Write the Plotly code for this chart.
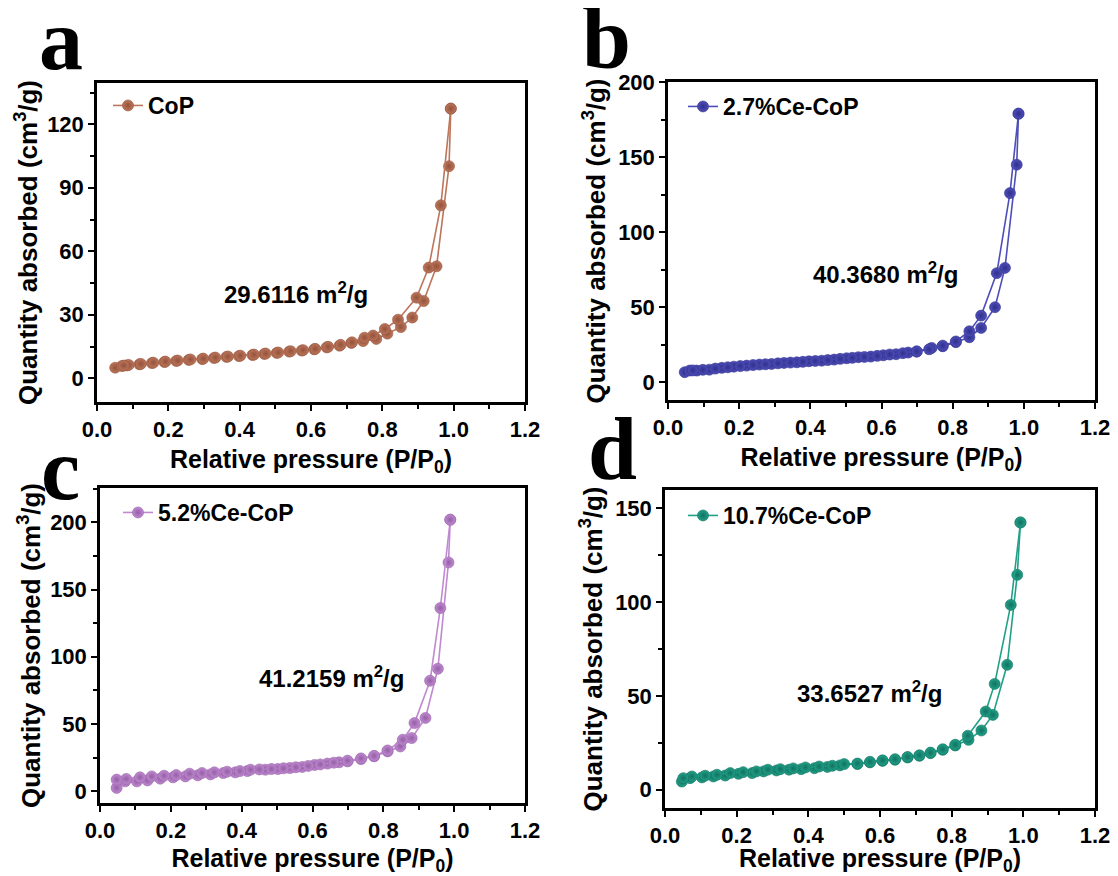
import plotly.graph_objects as go

# ---------------- data ----------------
# Panel a : CoP
a_ads_x = [0.051, 0.070, 0.084, 0.119, 0.154, 0.189, 0.222, 0.257, 0.295, 0.328, 0.363, 0.398, 0.436, 0.469,
           0.504, 0.539, 0.574, 0.609, 0.644, 0.680, 0.713, 0.746, 0.783, 0.814, 0.852, 0.884, 0.916, 0.952,
           0.987, 0.992]
a_ads_y = [5.0, 5.8, 6.1, 6.6, 7.2, 7.7, 8.2, 8.7, 9.1, 9.6, 10.1, 10.5, 11.0, 11.5,
           12.0, 12.6, 13.1, 13.7, 14.6, 15.4, 16.7, 17.6, 18.6, 21.1, 24.2, 28.7, 36.5, 52.9,
           100.2, 127.4]
a_des_x = [0.992, 0.964, 0.930, 0.896, 0.844, 0.807, 0.774, 0.750, 0.715, 0.683, 0.648, 0.612, 0.578, 0.543,
           0.508, 0.473, 0.440, 0.402, 0.367, 0.332, 0.298, 0.262, 0.226, 0.192, 0.158, 0.123, 0.089, 0.075]
a_des_y = [127.4, 81.7, 52.3, 38.1, 27.7, 23.3, 20.2, 19.2, 17.0, 15.8, 14.9, 13.9, 13.3, 12.8,
           12.2, 11.7, 11.2, 10.7, 10.3, 9.8, 9.3, 8.9, 8.4, 7.9, 7.4, 6.8, 6.3, 6.0]

# Panel b : 2.7%Ce-CoP
b_ads_x = [0.047, 0.061, 0.081, 0.116, 0.151, 0.185, 0.221, 0.257, 0.291, 0.326, 0.362, 0.396, 0.432, 0.467,
           0.502, 0.535, 0.570, 0.605, 0.641, 0.675, 0.699, 0.741, 0.772, 0.809, 0.847, 0.880, 0.919, 0.947,
           0.980, 0.985]
b_ads_y = [6.7, 7.8, 7.8, 8.4, 9.6, 10.4, 11.1, 11.8, 12.2, 12.9, 13.3, 14.0, 14.4, 15.1,
           16.0, 16.7, 17.1, 18.0, 18.7, 19.8, 20.4, 22.9, 24.0, 26.7, 30.0, 36.2, 50.0, 76.2,
           144.9, 178.9]
b_des_x = [0.985, 0.961, 0.924, 0.880, 0.847, 0.809, 0.772, 0.734, 0.699, 0.660, 0.623, 0.588, 0.552, 0.518,
           0.484, 0.449, 0.414, 0.379, 0.344, 0.309, 0.274, 0.239, 0.203, 0.168, 0.133, 0.098, 0.070]
b_des_y = [178.9, 126.0, 72.7, 44.4, 34.0, 27.2, 24.4, 22.0, 20.6, 19.4, 18.5, 17.6, 16.9, 16.3,
           15.6, 14.8, 14.2, 13.6, 13.1, 12.6, 12.0, 11.5, 10.8, 10.0, 9.1, 8.3, 7.9]

# Panel c : 5.2%Ce-CoP
c_ads_x = [0.047, 0.071, 0.104, 0.134, 0.170, 0.206, 0.241, 0.276, 0.312, 0.348, 0.382, 0.416, 0.467, 0.502,
           0.536, 0.571, 0.606, 0.642, 0.675, 0.699, 0.737, 0.774, 0.812, 0.848, 0.880, 0.919, 0.954, 0.984,
           0.989]
c_ads_y = [2.4, 7.3, 7.3, 8.0, 9.3, 10.3, 11.0, 11.8, 12.5, 13.5, 14.0, 15.0, 16.0, 16.5,
           17.2, 18.0, 19.5, 20.5, 21.5, 22.2, 23.9, 25.9, 29.6, 33.3, 39.5, 54.5, 91.1, 170.2,
           202.0]
c_des_x = [0.989, 0.961, 0.932, 0.888, 0.855, 0.812, 0.774, 0.737, 0.699, 0.660, 0.622, 0.588, 0.553, 0.518,
           0.484, 0.450, 0.425, 0.395, 0.359, 0.323, 0.288, 0.253, 0.215, 0.181, 0.146, 0.113, 0.074, 0.047]
c_des_y = [202.0, 136.3, 82.2, 50.7, 38.3, 30.3, 26.3, 24.4, 22.7, 21.2, 19.9, 18.8, 17.8, 17.0,
           16.5, 16.2, 16.0, 15.0, 14.5, 14.0, 13.5, 13.0, 12.0, 11.5, 11.0, 10.3, 9.1, 8.6]

# Panel d : 10.7%Ce-CoP
d_ads_x = [0.047, 0.070, 0.103, 0.135, 0.168, 0.205, 0.243, 0.275, 0.311, 0.346, 0.380, 0.417, 0.453, 0.488,
           0.537, 0.572, 0.607, 0.642, 0.677, 0.710, 0.741, 0.775, 0.810, 0.847, 0.883, 0.915, 0.955, 0.983,
           0.992]
d_ads_y = [4.4, 6.2, 6.6, 7.1, 7.6, 8.5, 8.9, 9.8, 10.3, 10.7, 11.0, 11.5, 12.2, 13.0,
           13.7, 14.6, 15.4, 16.0, 17.2, 18.1, 19.5, 21.3, 23.6, 26.6, 31.6, 39.9, 66.6, 114.5,
           142.4]
d_des_x = [0.992, 0.965, 0.920, 0.895, 0.845, 0.810, 0.775, 0.741, 0.710, 0.677, 0.642, 0.607, 0.572, 0.537,
           0.500, 0.467, 0.430, 0.392, 0.358, 0.322, 0.287, 0.255, 0.218, 0.182, 0.145, 0.112, 0.075, 0.051]
d_des_y = [142.4, 98.5, 56.4, 41.7, 28.8, 24.0, 21.6, 19.8, 18.4, 17.5, 16.3, 15.7, 14.9, 14.0,
           13.7, 12.8, 12.4, 11.9, 11.4, 11.0, 10.7, 9.8, 9.4, 8.9, 8.0, 7.5, 7.1, 6.2]

sample_names = ["CoP", "2.7%Ce-CoP", "5.2%Ce-CoP", "10.7%Ce-CoP"]
bet_labels = ["29.6116 m<sup>2</sup>/g", "40.3680 m<sup>2</sup>/g", "41.2159 m<sup>2</sup>/g", "33.6527 m<sup>2</sup>/g"]
panel_letters = ["a", "b", "c", "d"]

x_ticks = [0.0, 0.2, 0.4, 0.6, 0.8, 1.0, 1.2]
y_ranges = [[-11.2, 139.5], [-11.8, 200], [-8.8, 225.6], [-9.7, 159.7]]
y_dticks = [30, 50, 50, 50]

# ---------------- styling ----------------
OFF = 8                      # the page body adds an 8 px margin
W, H = 1118 - OFF, 876 - OFF
colors = ["#BC765B", "#4E4EBA", "#C189D1", "#21A088"]
edge_colors = ["#93523B", "#30308C", "#935FA5", "#117260"]

# plot boxes in screen pixels: (left, right, top, bottom)
boxes = [(97, 525, 83, 402), (668, 1095, 82, 400), (100, 525, 488, 803), (665, 1095, 490, 808)]

datasets = [(a_ads_x, a_ads_y, a_des_x, a_des_y),
            (b_ads_x, b_ads_y, b_des_x, b_des_y),
            (c_ads_x, c_ads_y, c_des_x, c_des_y),
            (d_ads_x, d_ads_y, d_des_x, d_des_y)]

legend_pos = [(108, 84), (683, 85), (118, 491), (683, 494)]
bet_pos = [(296, 293), (885, 273), (331, 677), (869, 692)]
letter_pos = [(61, 40), (606, 38), (60, 469), (612, 450)]
ytitle_standoff = [3, 6, 3, 6]


def fx(px):
    return (px - OFF) / W


def fy(py):
    return 1 - (py - OFF) / H


fig = go.Figure()
font_bold = dict(family="Arial", size=22, color="black", weight="bold")

for i in range(4):
    ax_sfx = "" if i == 0 else str(i + 1)
    xa, ya = "x" + ax_sfx, "y" + ax_sfx
    leg = "legend" if i == 0 else "legend" + str(i + 1)
    ax, ay, dx, dy = datasets[i]
    marker = dict(size=11, color=colors[i],
                  gradient=dict(type="radial", color=edge_colors[i]),
                  line=dict(width=0.6, color=edge_colors[i]))
    fig.add_trace(go.Scatter(x=ax, y=ay, mode="lines+markers", name=sample_names[i],
                             line=dict(color=colors[i], width=1.6), marker=marker,
                             xaxis=xa, yaxis=ya, legend=leg, showlegend=True))
    fig.add_trace(go.Scatter(x=dx, y=dy, mode="lines+markers", name=sample_names[i],
                             line=dict(color=colors[i], width=1.6), marker=marker,
                             xaxis=xa, yaxis=ya, legend=leg, showlegend=False))

layout = dict(width=W, height=H, margin=dict(l=0, r=0, t=0, b=0, autoexpand=False),
              paper_bgcolor="white", plot_bgcolor="white", annotations=[])

for i in range(4):
    l, r, t, b = boxes[i]
    ax_sfx = "" if i == 0 else str(i + 1)
    common = dict(showline=True, linecolor="black", linewidth=2.5, mirror=True,
                  ticks="outside", ticklen=6, tickwidth=2, tickcolor="black", automargin=False,
                  showgrid=False, zeroline=False, tickfont=font_bold)
    xaxis = dict(common, domain=[fx(l), fx(r)], range=[0, 1.2], tickvals=x_ticks,
                 ticktext=["%.1f" % v for v in x_ticks],
                 minor=dict(dtick=0.1, ticks="outside", ticklen=4, tickwidth=2, tickcolor="black"),
                 anchor="y" + ax_sfx,
                 title=dict(text="Relative pressure (P/P<sub>0</sub>)", standoff=10,
                            font=dict(family="Arial", size=25, color="black", weight="bold")))
    yaxis = dict(common, domain=[fy(b), fy(t)], range=y_ranges[i], dtick=y_dticks[i], tick0=0,
                 minor=dict(dtick=y_dticks[i] / 2, ticks="outside", ticklen=4, tickwidth=2, tickcolor="black"),
                 anchor="x" + ax_sfx,
                 title=dict(text="Quantity absorbed (cm<sup>3</sup>/g)", standoff=ytitle_standoff[i],
                            font=dict(family="Arial", size=26, color="black", weight="bold")))
    layout["xaxis" + ax_sfx] = xaxis
    layout["yaxis" + ax_sfx] = yaxis

    lx, ly = legend_pos[i]
    layout["legend" if i == 0 else "legend" + str(i + 1)] = dict(
        x=fx(lx), y=fy(ly), xanchor="left", yanchor="top", bgcolor="rgba(0,0,0,0)",
        font=dict(family="Arial", size=23, color="black", weight="bold"),
        itemwidth=30, borderwidth=0)

    bx, by = bet_pos[i]
    layout["annotations"].append(dict(text="<b>" + bet_labels[i] + "</b>", x=fx(bx), y=fy(by),
                                      xref="paper", yref="paper", showarrow=False,
                                      xanchor="center", yanchor="middle",
                                      font=dict(family="Arial", size=24, color="black")))
    px, py = letter_pos[i]
    layout["annotations"].append(dict(text="<b>" + panel_letters[i] + "</b>", x=fx(px), y=fy(py),
                                      xref="paper", yref="paper", showarrow=False,
                                      xanchor="center", yanchor="middle",
                                      font=dict(family="Liberation Serif", size=88, color="black")))

fig.update_layout(**layout)
fig.write_html("out.html")
